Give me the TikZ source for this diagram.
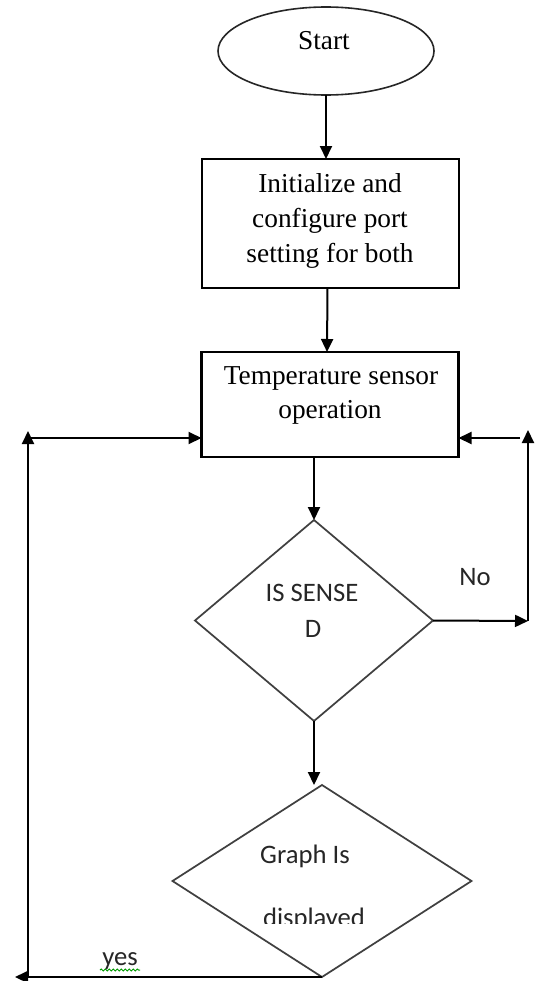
\documentclass[tikz,border=0pt]{standalone}
\usepackage{fontspec}
\setmainfont{Liberation Serif}
\newfontfamily\calib{Carlito}
\usetikzlibrary{shapes.geometric,arrows.meta,decorations.pathmorphing}
\newlength\upx
\setlength\upx{0.75pt}
\begin{document}
\begin{tikzpicture}[x=0.75pt,y=-0.75pt,
  box/.style={draw=black, line width=1.65pt, minimum width=192.75pt, minimum height=96.75pt, inner sep=0pt, outer sep=0pt},
  dia/.style={diamond, draw=black!75, line width=1.3pt, inner sep=0pt, outer sep=0pt},
  arr/.style={-{Triangle[length=9.75pt,width=9pt]}, line width=1.5pt},
  ser/.style={font=\fontsize{20.5}{24}\selectfont, inner sep=0pt, anchor=base},
  san/.style={font=\calib\fontsize{20}{24}\selectfont, inner sep=0pt, anchor=base, text=black!85}
]
\useasboundingbox (0,0) rectangle (535,981);

% shapes
\node[ellipse, draw=black!85, line width=1.2pt, minimum width=162pt, minimum height=66pt, inner sep=0pt, outer sep=0pt] (start) at (326,51) {};
\node[ser] (tstart) at (324,50) {Start};

\node[box] (init) at (330.5,223.5) {};
\node[ser] (t1a) at (330,192) {Initialize and};
\node[ser] (t1b) at (330,227) {configure port};
\node[ser] (t1c) at (330,262) {setting for both};

\node[box, minimum height=78.75pt] (temp) at (330,404.5) {};
\node[ser] (t2a) at (331,384) {Temperature sensor};
\node[ser] (t2b) at (330,418) {operation};

\node[dia, minimum width=178.5pt, minimum height=150.75pt] (sense) at (314,620.5) {};
\node[san] (t3a) at (312,601) {IS SENSE};
\node[san] (t3b) at (313,637) {D};

\node[dia, minimum width=224.25pt, minimum height=144pt] (graph) at (322,881) {};
\node[san] (t4a) at (305,863) {Graph Is};
\begin{scope}
  \clip (150,880) rectangle (480,923);
  \node[san] (t4b) at (314,926) {displayed};
\end{scope}

% connectors
\draw[arr] (start.south) -- (start.south |- init.north);
\draw[arr] ([xshift=-2.25pt]init.south) -- ([xshift=-2.25pt]temp.north);
\draw[arr] (sense.north |- temp.south) -- (sense.north);
\draw[arr] (sense.south) -- (sense.south |- graph.north);

% No loop
\coordinate (nr) at (528,621);
\coordinate (nt) at (528,430);
\coordinate (ns) at (520,438);
\draw[arr] (sense.east) -- (nr);
\draw[arr] (nr) -- (nt);
\draw[arr] (ns) -- (ns -| temp.east);
\node[san] (no) at (475,585) {No};

% yes loop
\coordinate (yl) at (15,978);
\coordinate (lb) at (28,978);
\coordinate (lt) at (28,431);
\coordinate (ls) at (28,438);
\draw[arr] (graph.south) -- (graph.south -| yl);
\draw[arr] (lb) -- (lt);
\draw[arr] (ls) -- (ls -| temp.west);
\node[san] (yes) at (120,965) {yes};
\draw[green!60!black, line width=0.75pt, decorate, decoration={snake, amplitude=0.75pt, segment length=3pt}] (100,970) -- (140,970);
\end{tikzpicture}
\end{document}
